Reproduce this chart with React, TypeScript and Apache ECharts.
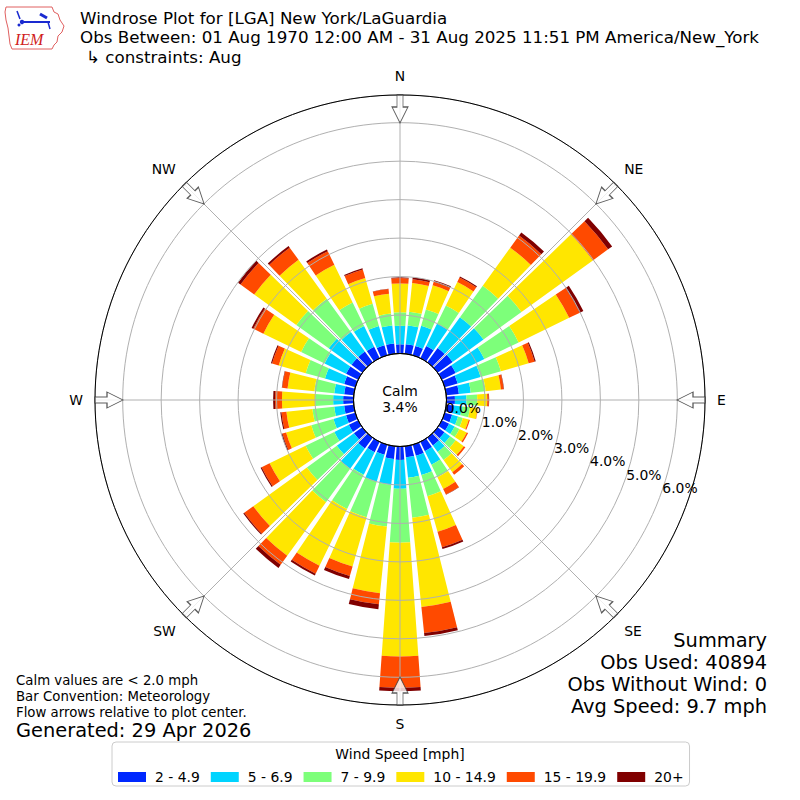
import React, { useEffect, useRef } from 'react';
import * as echarts from 'echarts';

// ---- data ----
const directions = ['0','10','20','30','40','50','60','70','80','90','100','110','120','130','140','150','160','170','180','190','200','210','220','230','240','250','260','270','280','290','300','310','320','330','340','350'];
const speedBins = ['2 - 4.9', '5 - 6.9', '7 - 9.9', '10 - 14.9', '15 - 19.9', '20+'];
const binColors = ['#0028ff', '#00d4ff', '#7dff7a', '#ffe600', '#ff4a00', '#800000'];

const bin2to5 = [0.24,0.25,0.25,0.35,0.46,0.48,0.40,0.35,0.33,0.22,0.20,0.20,0.21,0.22,0.25,0.27,0.30,0.29,0.35,0.33,0.27,0.30,0.35,0.27,0.27,0.25,0.25,0.27,0.25,0.30,0.35,0.35,0.35,0.33,0.27,0.27];
const bin5to7 = [0.48,0.49,0.55,0.65,0.99,0.99,0.83,0.62,0.31,0.30,0.21,0.16,0.16,0.18,0.21,0.39,0.52,0.53,0.75,0.68,0.73,0.65,0.65,0.55,0.42,0.34,0.26,0.26,0.26,0.52,0.62,0.73,0.62,0.60,0.52,0.47];
const bin7to10 = [0.35,0.36,0.44,0.52,1.01,1.22,0.99,0.55,0.39,0.28,0.21,0.13,0.14,0.18,0.26,0.36,0.57,1.05,1.40,1.09,0.96,0.99,1.07,0.96,0.83,0.60,0.57,0.47,0.52,0.52,0.68,1.04,1.07,0.68,0.60,0.31];
const bin10to15 = [0.75,0.75,0.65,0.68,1.22,2.29,1.46,0.75,0.40,0.26,0.20,0.16,0.21,0.26,0.39,0.34,0.96,2.33,2.96,1.74,1.33,1.64,1.72,1.72,1.04,0.68,0.68,0.86,0.70,0.73,1.09,1.35,1.25,1.09,0.70,0.52];
const bin15to20 = [0.14,0.10,0.10,0.13,0.39,0.49,0.31,0.16,0.07,0.04,0.01,0.03,0.04,0.05,0.08,0.16,0.42,0.68,0.81,0.29,0.26,0.23,0.29,0.29,0.23,0.10,0.13,0.18,0.14,0.18,0.29,0.44,0.39,0.39,0.23,0.12];
const bin20plus = [0.02,0.05,0.04,0.03,0.10,0.13,0.10,0.03,0.01,0.01,0.00,0.00,0.00,0.00,0.00,0.01,0.05,0.08,0.09,0.13,0.08,0.05,0.10,0.03,0.03,0.03,0.03,0.05,0.01,0.03,0.05,0.08,0.05,0.05,0.03,0.01];
const binValues = [bin2to5, bin5to7, bin7to10, bin10to15, bin15to20, bin20plus];

const compassAngles = [0, 45, 90, 135, 180, 225, 270, 315];
const compassLabels = ['N', 'NE', 'E', 'SE', 'S', 'SW', 'W', 'NW'];
const radialMax = 6.72;
const radialInterval = 1;
const calmPct = '3.4%';

const titleLines = [
  'Windrose Plot for [LGA] New York/LaGuardia',
  'Obs Between: 01 Aug 1970 12:00 AM - 31 Aug 2025 11:51 PM America/New_York',
  '\u21b3 constraints: Aug',
];
const noteLines = ['Calm values are < 2.0 mph', 'Bar Convention: Meteorology', 'Flow arrows relative to plot center.'];
const generatedText = 'Generated: 29 Apr 2026';
const summaryLines = ['Summary', 'Obs Used: 40894', 'Obs Without Wind: 0', 'Avg Speed: 9.7 mph'];
const legendTitle = 'Wind Speed [mph]';

const FONT = 'DejaVu Sans';

export default function App() {
  const ref = useRef<HTMLDivElement>(null);
  useEffect(() => {
    if (!ref.current) return;
    const chart = echarts.init(ref.current, undefined, { renderer: 'svg' });

    const barSeries = speedBins.map((name, i) => ({
      name,
      type: 'bar',
      coordinateSystem: 'polar',
      polarIndex: 0,
      stack: 'total',
      data: binValues[i],
      barCategoryGap: '18%',
      itemStyle: { color: binColors[i] },
      z: 2,
    }));

    const arrowPath = 'path://M5,0L11,0L11,12L16,12L8,28L0,12L5,12Z';
    const arrowSeries = {
      type: 'scatter',
      coordinateSystem: 'polar',
      polarIndex: 1,
      symbol: arrowPath,
      symbolSize: [16, 28],
      itemStyle: { color: '#ffffff', borderColor: '#333333', borderWidth: 1 },
      data: compassAngles.map((a) => ({ value: [6.356, a], symbolRotate: -a })),
      z: 15,
      silent: true,
    };

    const texts: any[] = [];
    const titleY = [17.5, 37, 56.5];
    titleLines.forEach((t, i) => {
      texts.push({ type: 'text', x: i === 2 ? 86 : 80, y: titleY[i], style: { text: t, font: `16.7px '${FONT}'`, fill: '#000', textVerticalAlign: 'middle' } });
    });
    noteLines.forEach((t, i) => {
      texts.push({ type: 'text', x: 16, y: 680 + i * 16, style: { text: t, font: `13.3px '${FONT}'`, fill: '#000', textVerticalAlign: 'middle' } });
    });
    texts.push({ type: 'text', x: 16, y: 730, style: { text: generatedText, font: `19.4px '${FONT}'`, fill: '#000', textVerticalAlign: 'middle' } });
    summaryLines.forEach((t, i) => {
      texts.push({ type: 'text', x: 767, y: 640 + i * 22, style: { text: t, font: `19.4px '${FONT}'`, fill: '#000', textAlign: 'right', textVerticalAlign: 'middle' } });
    });
    texts.push({ type: 'text', x: 400, y: 391, z: 50, style: { text: 'Calm', font: `13.9px '${FONT}'`, fill: '#000', textAlign: 'center', textVerticalAlign: 'middle' } });
    texts.push({ type: 'text', x: 400, y: 407, z: 50, style: { text: calmPct, font: `13.9px '${FONT}'`, fill: '#000', textAlign: 'center', textVerticalAlign: 'middle' } });
    texts.push({ type: 'text', x: 400, y: 754, z: 100, style: { text: legendTitle, font: `13.9px '${FONT}'`, fill: '#000', textAlign: 'center', textVerticalAlign: 'middle' } });

    // IEM logo approximation
    const logo = {
      type: 'group',
      children: [
        { type: 'polygon', shape: { points: [[6,7],[52,7],[54,12],[58,14],[60,20],[64,26],[62,32],[58,36],[57,42],[54,45],[52,49],[12,49],[10,44],[9,36],[8,28],[6,20],[5,12]] }, style: { fill: '#ffffff', stroke: '#e06060', lineWidth: 1 } },
        { type: 'line', shape: { x1: 22, y1: 22, x2: 50, y2: 22 }, style: { stroke: '#1a2ad0', lineWidth: 2 } },
        { type: 'line', shape: { x1: 17, y1: 11, x2: 20, y2: 19 }, style: { stroke: '#1a2ad0', lineWidth: 1.5 } },
        { type: 'line', shape: { x1: 40, y1: 14, x2: 47, y2: 18 }, style: { stroke: '#1a2ad0', lineWidth: 3 } },
        { type: 'line', shape: { x1: 48, y1: 22, x2: 50, y2: 29 }, style: { stroke: '#1a2ad0', lineWidth: 1.5 } },
        { type: 'circle', shape: { cx: 22, cy: 22, r: 2.2 }, style: { fill: '#1a2ad0' } },
        { type: 'circle', shape: { cx: 19, cy: 25, r: 1.5 }, style: { fill: '#1a2ad0' } },
        { type: 'text', x: 15, y: 39, style: { text: 'IEM', font: "italic 16px 'Liberation Serif'", fill: '#d02020', textVerticalAlign: 'middle' } },
      ],
    };

    const compassFormatter = (v: number) => {
      const idx = compassAngles.indexOf(v);
      return idx >= 0 ? compassLabels[idx] : '';
    };

    const option: any = {
      animation: false,
      backgroundColor: '#ffffff',
      textStyle: { fontFamily: FONT },
      polar: [
        { center: [400, 400], radius: [46.5, 305] },
        { center: [400, 400], radius: [46.5, 305] },
        { center: [400, 400], radius: 46.5 },
        { center: [419.7, 392.2], radius: [46.5, 305] },
      ],
      angleAxis: [
        {
          polarIndex: 0, type: 'category', data: directions, startAngle: 95, clockwise: true, boundaryGap: true,
          axisLine: { show: true, lineStyle: { color: '#000', width: 1 } },
          axisTick: { show: false }, axisLabel: { show: false }, splitLine: { show: false }, z: 12,
        },
        {
          polarIndex: 1, type: 'value', min: 0, max: 360, interval: 45, startAngle: 90, clockwise: true,
          axisLine: { show: false }, axisTick: { show: false },
          splitLine: { show: true, lineStyle: { color: '#b0b0b0', width: 1 } },
          axisLabel: { show: true, formatter: compassFormatter, margin: 12, fontSize: 13.9, color: '#000', fontFamily: FONT },
          z: 10,
        },
        {
          polarIndex: 2, type: 'value', min: 0, max: 360,
          axisLine: { show: true, lineStyle: { color: '#000', width: 1 } },
          axisTick: { show: false }, axisLabel: { show: false }, splitLine: { show: false }, z: 13,
        },
        {
          polarIndex: 3, type: 'value', min: 0, max: 360, startAngle: -20.2,
          axisLine: { show: false }, axisTick: { show: false }, axisLabel: { show: false }, splitLine: { show: false },
        },
      ],
      radiusAxis: [
        {
          polarIndex: 0, type: 'value', min: 0, max: radialMax, interval: radialInterval,
          axisLine: { show: false }, axisTick: { show: false }, axisLabel: { show: false },
          splitLine: { show: true, lineStyle: { color: '#b0b0b0', width: 1 } }, z: 10,
        },
        {
          polarIndex: 1, type: 'value', min: 0, max: radialMax, interval: radialInterval,
          axisLine: { show: false }, axisTick: { show: false }, axisLabel: { show: false }, splitLine: { show: false },
        },
        {
          polarIndex: 2, type: 'value', min: 0, max: 1, show: false,
        },
        {
          polarIndex: 3, type: 'value', min: 0, max: radialMax, interval: radialInterval,
          axisLine: { show: false }, axisTick: { show: false }, splitLine: { show: false },
          axisLabel: {
            show: true, margin: 0, align: 'center', verticalAlign: 'middle', fontSize: 13.9, color: '#000', fontFamily: FONT,
            formatter: (v: number) => (Math.abs(v - Math.round(v)) < 1e-6 ? v.toFixed(1) + '%' : ''),
          },
          z: 20,
        },
      ],
      legend: {
        data: speedBins, left: 112, top: 742, orient: 'horizontal', icon: 'rect',
        itemWidth: 28, itemHeight: 10, itemGap: 11,
        padding: [28, 6, 2, 6], backgroundColor: '#ffffff', borderColor: '#cccccc', borderWidth: 1, borderRadius: 4,
        textStyle: { fontSize: 13.9, color: '#000', fontFamily: FONT, padding: [0, 0, 0, 4] },
        selectedMode: false,
      },
      graphic: [logo, ...texts],
      series: [...barSeries, arrowSeries],
    };
    chart.setOption(option);
    return () => chart.dispose();
  }, []);
  return <div ref={ref} style={{ position: 'fixed', left: 0, top: 0, width: 800, height: 800, background: '#fff' }} />;
}
